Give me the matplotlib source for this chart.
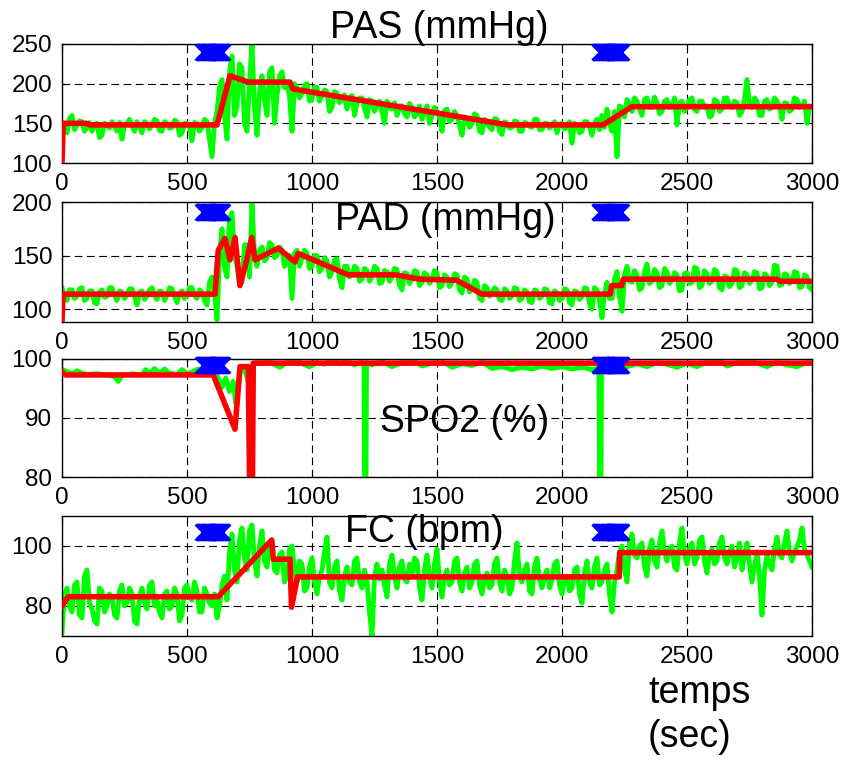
import numpy as np
import matplotlib
matplotlib.use('Agg')
import matplotlib.pyplot as plt

plt.rcParams['font.family'] = ['Liberation Sans', 'DejaVu Sans']

# sample times of the monitored signals (sec)
t = np.arange(0, 3001, 10)

pas = [150, 145, 138, 156, 160, 142, 148, 153, 152, 140, 145, 151, 140, 149, 150, 132, 135, 150, 148, 144,
       152, 146, 140, 151, 130, 148, 150, 155, 146, 140, 152, 147, 138, 152, 150, 143, 148, 155, 153, 141,
       140, 152, 150, 144, 145, 154, 152, 135, 138, 150, 150, 146, 128, 151, 150, 140, 145, 155, 152, 130,
       108, 150, 165, 195, 205, 160, 130, 215, 235, 160, 170, 225, 220, 150, 140, 200, 250, 170, 135, 190,
       210, 180, 160, 215, 220, 150, 185, 210, 215, 195, 200, 185, 140, 200, 195, 182, 188, 198, 200, 178,
       180, 196, 195, 178, 185, 192, 190, 165, 170, 190, 188, 176, 180, 186, 168, 182, 185, 160, 175, 182,
       182, 170, 158, 180, 178, 165, 172, 178, 165, 150, 178, 170, 168, 176, 160, 172, 172, 162, 158, 175,
       170, 158, 162, 172, 155, 164, 172, 150, 160, 170, 165, 158, 140, 166, 168, 152, 155, 165, 160, 148,
       135, 158, 155, 145, 150, 162, 160, 140, 138, 155, 152, 145, 142, 156, 155, 140, 136, 152, 150, 144,
       145, 153, 152, 140, 140, 151, 150, 146, 145, 155, 155, 142, 142, 150, 150, 144, 147, 152, 138, 149,
       150, 143, 145, 152, 125, 150, 148, 138, 140, 152, 152, 145, 135, 150, 155, 142, 160, 145, 168, 150,
       140, 165, 108, 172, 170, 158, 180, 175, 165, 182, 178, 168, 160, 180, 182, 170, 170, 183, 176, 162,
       165, 178, 180, 170, 172, 182, 148, 176, 178, 165, 170, 180, 182, 168, 165, 178, 178, 170, 172, 158,
       160, 180, 178, 165, 168, 182, 182, 172, 170, 178, 176, 160, 165, 180, 205, 172, 170, 182, 178, 160,
       160, 178, 180, 168, 170, 182, 178, 172, 155, 176, 175, 165, 168, 182, 180, 170, 172, 178, 150, 172,
       170]

pad = [120, 112, 108, 118, 118, 110, 112, 119, 120, 108, 110, 117, 117, 106, 105, 116, 118, 111, 112, 120,
       120, 113, 108, 117, 116, 110, 113, 119, 119, 112, 104, 116, 117, 109, 112, 118, 120, 113, 109, 117,
       116, 108, 113, 120, 119, 112, 106, 115, 117, 110, 112, 120, 120, 113, 110, 118, 116, 108, 104, 125,
       130, 115, 90, 150, 175, 140, 130, 185, 190, 150, 140, 125, 125, 160, 160, 130, 198, 150, 140, 155,
       158, 145, 148, 162, 160, 148, 150, 158, 155, 140, 145, 150, 110, 152, 155, 140, 148, 155, 152, 138,
       140, 150, 150, 135, 138, 148, 145, 130, 135, 146, 147, 128, 120, 140, 140, 130, 132, 140, 138, 126,
       128, 138, 136, 126, 130, 140, 138, 124, 125, 136, 135, 126, 130, 138, 137, 122, 118, 134, 133, 124,
       128, 136, 135, 122, 125, 134, 132, 124, 128, 136, 134, 120, 122, 132, 130, 121, 125, 133, 132, 118,
       115, 130, 128, 116, 120, 127, 125, 110, 108, 122, 120, 112, 115, 120, 118, 109, 108, 119, 117, 110,
       112, 120, 119, 108, 110, 118, 116, 107, 106, 118, 117, 110, 112, 119, 118, 106, 105, 117, 115, 108,
       110, 119, 118, 106, 104, 117, 116, 109, 112, 120, 119, 105, 100, 120, 118, 108, 92, 115, 125, 110,
       110, 128, 135, 112, 98, 132, 140, 126, 125, 136, 132, 118, 120, 135, 142, 124, 126, 137, 134, 120,
       122, 138, 135, 124, 127, 134, 132, 117, 118, 133, 134, 124, 125, 139, 138, 120, 122, 136, 133, 124,
       126, 137, 135, 120, 118, 131, 130, 121, 124, 137, 136, 120, 122, 134, 132, 124, 127, 135, 134, 119,
       120, 133, 131, 122, 125, 141, 140, 122, 123, 133, 132, 124, 126, 135, 134, 120, 121, 132, 130, 120,
       118]

fc = [71, 84, 86, 80, 78, 87, 88, 77, 76, 90, 92, 81, 79, 75, 74, 86, 85, 78, 80, 84,
      83, 77, 76, 85, 87, 80, 81, 86, 84, 75, 74, 83, 86, 81, 79, 87, 88, 80, 82, 78,
      76, 84, 85, 79, 80, 86, 84, 75, 77, 86, 87, 83, 82, 88, 85, 78, 78, 86, 84, 81,
      80, 84, 76, 80, 87, 90, 82, 98, 104, 92, 88, 102, 106, 96, 92, 105, 107, 95, 90, 100,
      105, 95, 93, 100, 101, 92, 91, 97, 98, 88, 90, 99, 100, 92, 88, 95, 94, 85, 86, 93,
      96, 88, 84, 90, 92, 98, 103, 88, 86, 93, 95, 85, 82, 90, 93, 88, 87, 95, 96, 88,
      86, 92, 88, 78, 70, 90, 94, 89, 92, 87, 83, 94, 97, 90, 86, 93, 95, 89, 88, 94,
      90, 96, 95, 86, 82, 92, 97, 90, 86, 94, 99, 88, 83, 90, 92, 87, 88, 95, 96, 88,
      85, 91, 93, 86, 88, 94, 95, 87, 84, 89, 91, 86, 87, 94, 96, 88, 85, 92, 90, 84,
      86, 95, 101, 90, 88, 92, 94, 85, 84, 93, 96, 89, 86, 90, 92, 86, 89, 94, 95, 87,
      84, 89, 90, 85, 86, 92, 93, 84, 81, 91, 95, 88, 86, 93, 96, 87, 88, 92, 94, 84,
      78, 88, 92, 98, 100, 92, 88, 101, 104, 97, 96, 100, 101, 93, 90, 99, 102, 95, 93, 101,
      105, 98, 95, 99, 100, 93, 92, 101, 106, 97, 94, 99, 101, 94, 96, 102, 103, 95, 91, 97,
      99, 94, 95, 101, 103, 96, 94, 98, 100, 93, 96, 101, 92, 97, 101, 94, 88, 93, 98, 90,
      77, 92, 97, 94, 92, 99, 103, 97, 96, 101, 105, 98, 95, 98, 100, 102, 106, 99, 97, 95,
      93]

# SpO2 has sensor dropouts, so it keeps its own time stamps
spo2_t = [0, 20, 40, 60, 80, 100, 140, 180, 210, 225, 240, 280, 320, 335, 350,
          370, 390, 410, 430, 460, 480, 500, 520, 545, 570, 600, 620, 640, 655,
          670, 685, 695, 705, 715, 730, 745, 760, 780, 800, 820, 840, 870, 900,
          930, 960, 990, 1020, 1050, 1080, 1110, 1140, 1170, 1200, 1208, 1210,
          1216, 1218, 1240, 1280, 1320, 1360, 1400, 1440, 1480, 1520, 1560, 1600,
          1640, 1680, 1720, 1760, 1800, 1840, 1880, 1920, 1960, 2000, 2040, 2080,
          2120, 2148, 2150, 2156, 2158, 2180, 2210, 2240, 2270, 2300, 2340, 2380,
          2420, 2460, 2500, 2540, 2580, 2620, 2660, 2700, 2740, 2780, 2820, 2860,
          2900, 2940, 2980, 3000]
spo2 = [98.2, 97.9, 97.5, 98.0, 97.6, 97.4, 97.5, 97.3, 97.0, 96.2, 97.2, 97.5,
        97.3, 98.2, 97.4, 98.4, 97.5, 98.3, 97.6, 97.4, 98.2, 97.5, 97.8, 98.3,
        97.5, 97.6, 97.2, 95.2, 96.8, 94.5, 96.2, 92.5, 95.0, 98.7, 98.2, 96.3,
        98.8, 99.5, 99.2, 100.0, 99.3, 98.6, 99.4, 99.8, 99.2, 98.7, 99.4, 99.1,
        99.9, 99.3, 99.6, 99.0, 99.5, 99.2, 80, 80, 99.4, 99.0, 99.6, 98.7, 99.4,
        99.8, 98.8, 99.3, 99.6, 98.6, 99.2, 98.9, 99.5, 98.4, 98.7, 98.2, 98.6,
        98.3, 98.8, 98.4, 98.7, 98.3, 98.6, 98.2, 98.5, 80, 80, 98.4, 98.3, 98.6,
        98.4, 98.8, 99.2, 98.7, 99.4, 99.1, 98.6, 99.3, 98.7, 99.5, 100.0, 98.8,
        99.4, 100.0, 99.3, 98.7, 99.5, 99.0, 98.7, 99.4, 99.2]

# estimated (red) trends, as breakpoints
pas_est_t = [0, 5, 100, 110, 620, 672, 744, 912, 924, 930, 1784, 2164, 2280, 3000]
pas_est = [100, 150, 150, 148, 148, 210, 202, 202, 193, 193, 148, 148, 171, 171]

pad_est_t = [0, 4, 612, 625, 652, 672, 692, 712, 739, 759, 772, 865, 932, 945,
             1145, 1332, 1432, 1579, 1679, 2192, 2199, 2239, 2245, 2859, 2872, 3000]
pad_est = [88, 114, 114, 155, 166, 146, 167, 122, 146, 167, 146, 157, 144, 152,
           132, 132, 128, 127, 114, 114, 122, 122, 128, 128, 126, 126]

spo2_est_t = [0, 15, 605, 692, 712, 745, 750, 762, 765, 3000]
spo2_est = [97.8, 97.3, 97.3, 88.1, 98.7, 98.7, 80, 80, 99.3, 99.3]

fc_est_t = [0, 25, 625, 839, 845, 912, 918, 942, 2229, 2231, 3000]
fc_est = [80, 83.1, 83.1, 102, 95.6, 95.6, 79.6, 89.7, 89.7, 97.8, 97.8]

# event markers (drug injections)
ev1_t = [565, 567.5, 570, 572.5, 575, 577.5, 580, 582.5, 585, 587.5, 590, 592.5, 595, 597.5,
         600, 602.5, 605, 607.5, 610, 612.5, 615, 617.5, 620, 622.5, 625, 627.5, 630, 632.5,
         635, 637.5, 640]
ev2_t = [2150, 2152.5, 2155, 2157.5, 2160, 2162.5, 2165, 2167.5, 2170, 2172.5, 2175, 2177.5,
         2180, 2182.5, 2185, 2187.5, 2190, 2192.5, 2195, 2197.5, 2200, 2202.5, 2205, 2207.5,
         2210, 2212.5, 2215, 2217.5, 2220, 2222.5, 2225, 2227.5, 2230, 2232.5, 2235]

fig = plt.figure(figsize=(8.42, 7.61), dpi=100)
W, H = 842.0, 761.0

panels = [
    # (top px, bottom px, green t, green v, red t, red v, ylim, yticks, marker y, title, title x, title baseline)
    (44, 163, t, pas, pas_est_t, pas_est, (100, 250), [100, 150, 200, 250], 240, 'PAS (mmHg)', 330, 38),
    (202, 322, t, pad, pad_est_t, pad_est, (88, 200), [100, 150, 200], 191, 'PAD (mmHg)', 335, 230),
    (359, 477, spo2_t, spo2, spo2_est_t, spo2_est, (80, 100), [80, 90, 100], 99.0, 'SPO2 (%)', 380, 432),
    (516, 636, t, fc, fc_est_t, fc_est, (70, 110), [80, 100], 104.8, 'FC (bpm)', 345, 542),
]

for top, bot, gt, gv, rt, rv, ylim, yt, my, title, tx, tb in panels:
    ax = fig.add_axes([62 / W, 1 - bot / H, 750 / W, (bot - top) / H])
    ax.plot(gt, gv, color='#00ff00', lw=3.5, zorder=2)
    ax.plot(rt, rv, color='#ff0000', lw=4, zorder=3)
    ax.plot(ev1_t, [my] * len(ev1_t), 'x', color='#0000ff', ms=12, mew=2, zorder=4, clip_on=False)
    ax.plot(ev2_t, [my] * len(ev2_t), 'x', color='#0000ff', ms=12, mew=2, zorder=4, clip_on=False)
    ax.set_xlim(0, 3000)
    ax.set_ylim(*ylim)
    ax.set_xticks([0, 500, 1000, 1500, 2000, 2500, 3000])
    ax.set_yticks(yt)
    ax.grid(True, color='black', lw=0.8, linestyle=(0, (7, 4)))
    ax.tick_params(direction='in', length=4, top=True, right=True, labelsize=17.5, pad=7)
    for s in ax.spines.values():
        s.set_linewidth(1.0)
    fig.text(tx / W, 1 - tb / H, title, fontsize=27, ha='left', va='baseline')

fig.text(648 / W, 1 - 703 / H, 'temps', fontsize=27, ha='left', va='baseline')
fig.text(648 / W, 1 - 747 / H, '(sec)', fontsize=27, ha='left', va='baseline')

fig.savefig('out.png', dpi=100)
